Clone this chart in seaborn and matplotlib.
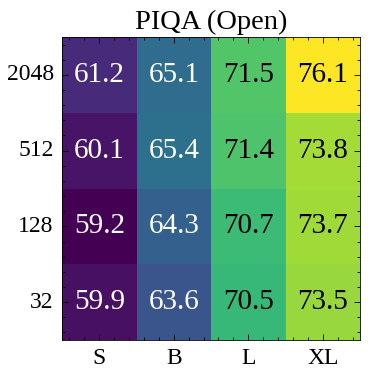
import numpy as np
import pandas as pd
import matplotlib
matplotlib.use('Agg')
import matplotlib.pyplot as plt
import matplotlib.ticker as mticker
import seaborn as sns

# Data
models = ['S', 'B', 'L', 'XL']
shots = ['2048', '512', '128', '32']
row_2048 = [61.2, 65.1, 71.5, 76.1]
row_512 = [60.1, 65.4, 71.4, 73.8]
row_128 = [59.2, 64.3, 70.7, 73.7]
row_32 = [59.9, 63.6, 70.5, 73.5]

df = pd.DataFrame([row_2048, row_512, row_128, row_32], index=shots, columns=models)

sns.set_style('ticks')
plt.rcParams.update({
    'font.family': ['Liberation Serif', 'DejaVu Serif'],
    'font.size': 16,
    'axes.linewidth': 0.6,
    'axes.edgecolor': 'black',
    'axes.axisbelow': False,
})

fig = plt.figure(figsize=(3.73, 3.77), dpi=100)
ax = fig.add_axes([62/373, 1 - 340/377, 298/373, 303/377])

sns.heatmap(df, ax=ax, cmap='viridis', annot=True, fmt='.1f', cbar=False,
            annot_kws={'fontsize': 21})

# white text on dark cells, black on light ones
vmin, vmax = df.values.min(), df.values.max()
for t in ax.texts:
    frac = (float(t.get_text()) - vmin) / (vmax - vmin)
    t.set_color('black' if frac > 0.55 else 'white')

ax.set_axisbelow(False)
ax.set_title('PIQA (Open)', fontsize=20.5, pad=6, color='black')
ax.xaxis.set_minor_locator(mticker.AutoMinorLocator(5))
ax.yaxis.set_minor_locator(mticker.AutoMinorLocator(5))
ax.tick_params(axis='y', rotation=0)
ax.tick_params(which='major', direction='in', top=True, right=True,
               length=4, width=0.6, color='black', labelsize=17,
               labelcolor='black', pad=6)
ax.tick_params(which='minor', direction='in', top=True, right=True,
               length=2, width=0.6, color='black')
for s in ax.spines.values():
    s.set_visible(True)
    s.set_linewidth(0.6)

fig.savefig('out.png', dpi=100)
